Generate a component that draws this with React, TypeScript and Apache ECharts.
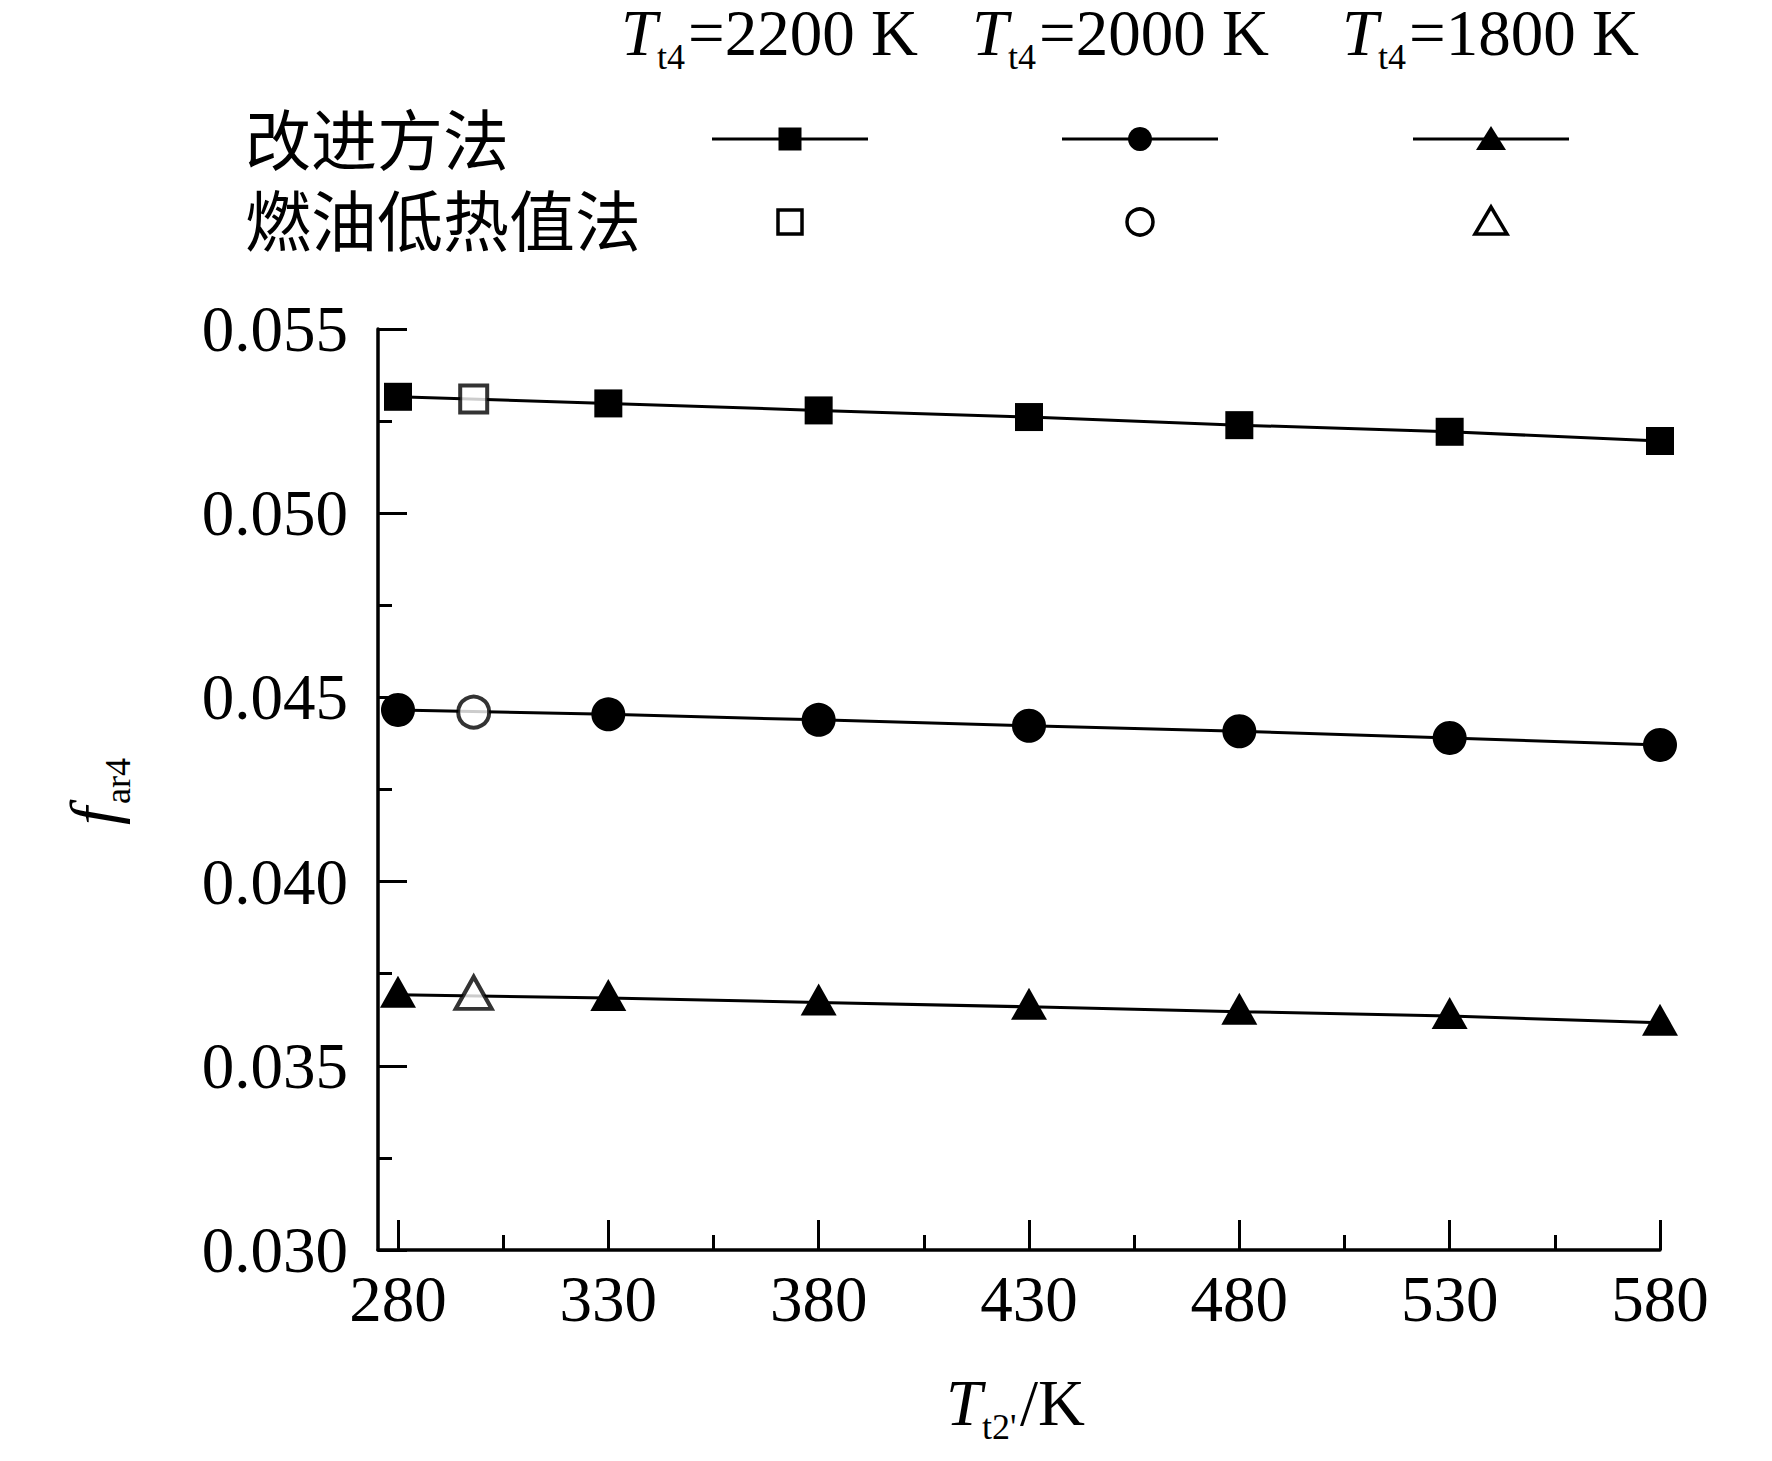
import React, { useEffect, useRef } from "react";
import * as echarts from "echarts";

// ---- data ----
const X_FILLED = [280, 330, 380, 430, 480, 530, 580];
const X_OPEN = [298];
const X_MAJOR_TICKS = [280, 330, 380, 430, 480, 530, 580];
const X_MINOR_TICKS = [305, 355, 405, 455, 505, 555];
const T4_LABELS = ["2200 K", "2000 K", "1800 K"];
const ROW_LABELS = ["改进方法", "燃油低热值法"];

const IMPROVED_2200 = [0.05316, 0.05298, 0.05279, 0.05261, 0.05239, 0.05221, 0.05196];
const IMPROVED_2000 = [0.04466, 0.04454, 0.04439, 0.04423, 0.04408, 0.0439, 0.04371];
const IMPROVED_1800 = [0.03693, 0.03684, 0.03672, 0.0366, 0.03647, 0.03635, 0.03617];
const LHV_2200 = [0.0531];
const LHV_2000 = [0.0446];
const LHV_1800 = [0.0369];

const SERIF = "'Liberation Serif', 'Times New Roman', 'DejaVu Serif', serif";
const CJK = "'Noto Sans CJK SC', 'Noto Sans CJK JP', sans-serif";

function txt(x: number, y: number, text: string, size: number, italic = false, lh?: number) {
  return {
    type: "text",
    x,
    y,
    style: {
      text,
      fontFamily: SERIF,
      fontSize: size,
      fontStyle: italic ? "italic" : "normal",
      lineHeight: lh ?? Math.round(size * 0.86),
      fill: "#000",
      align: "left",
      verticalAlign: "middle",
    },
  };
}

// symbol + subscript + rest, laid out left to right; mainMid = middle of the main text line
function subLabel(x0: number, mainMid: number, main: string, mainW: number, sub: string, subW: number, rest: string) {
  const subMid = mainMid + 24;
  const out: any[] = [txt(x0, mainMid, main, 65, true)];
  out.push(txt(x0 + mainW, subMid, sub, 36));
  if (rest) out.push(txt(x0 + mainW + subW, mainMid, rest, 65));
  return out;
}

export default function App() {
  const ref = useRef<HTMLDivElement>(null);

  useEffect(() => {
    document.body.style.margin = "0";
    const chart = echarts.init(ref.current!, null, { renderer: "svg" });

    const pairs = (xs: number[], ys: number[]) => xs.map((x, i) => [x, ys[i]]);
    const symbols = ["rect", "circle", "triangle"];
    const filledSizes: any[] = [28, 34, [36, 32]];
    const openSizes: any[] = [27, 31, [36, 32]];
    const improved = [IMPROVED_2200, IMPROVED_2000, IMPROVED_1800];
    const lhv = [LHV_2200, LHV_2000, LHV_1800];

    const series: any[] = [];
    for (let k = 0; k < 3; k++) {
      series.push({
        name: ROW_LABELS[0] + T4_LABELS[k],
        type: "line",
        data: pairs(X_FILLED, improved[k]),
        symbol: symbols[k],
        symbolSize: filledSizes[k],
        symbolOffset: k === 2 ? [0, -3] : [0, 0],
        showAllSymbol: true,
        lineStyle: { color: "#000", width: 3 },
        itemStyle: { color: "#000" },
        z: 2,
      });
      series.push({
        name: ROW_LABELS[1] + T4_LABELS[k],
        type: "scatter",
        data: pairs(X_OPEN, lhv[k]),
        symbol: symbols[k],
        symbolSize: openSizes[k],
        symbolOffset: k === 2 ? [0, -3] : [0, 0],
        itemStyle: { color: "#fff", borderColor: "#000", borderWidth: 4 },
        z: 4,
      });
    }

    // legend graphics
    const colX = [790, 1140, 1491];
    const headerLeft = [621, 972, 1342];
    const graphic: any[] = [];
    for (let k = 0; k < 3; k++) {
      graphic.push(...subLabel(headerLeft[k], 33, "T", 36, "t4", 31, "=" + T4_LABELS[k]));
      graphic.push({
        type: "line",
        shape: { x1: colX[k] - 78, y1: 139, x2: colX[k] + 78, y2: 139 },
        style: { stroke: "#000", lineWidth: 3 },
      });
    }
    // filled legend markers
    graphic.push({ type: "rect", shape: { x: colX[0] - 11.5, y: 139 - 11.5, width: 23, height: 23 }, style: { fill: "#000" } });
    graphic.push({ type: "circle", shape: { cx: colX[1], cy: 139, r: 12 }, style: { fill: "#000" } });
    graphic.push({
      type: "polygon",
      shape: { points: [[colX[2], 126], [colX[2] - 15, 150], [colX[2] + 15, 150]] },
      style: { fill: "#000" },
    });
    // open legend markers
    graphic.push({ type: "rect", shape: { x: colX[0] - 12, y: 222 - 12, width: 24, height: 24 }, style: { fill: "#fff", stroke: "#000", lineWidth: 3.5 } });
    graphic.push({ type: "circle", shape: { cx: colX[1], cy: 222, r: 13 }, style: { fill: "#fff", stroke: "#000", lineWidth: 3.5 } });
    graphic.push({
      type: "polygon",
      shape: { points: [[colX[2], 207], [colX[2] - 16, 234], [colX[2] + 16, 234]] },
      style: { fill: "#fff", stroke: "#000", lineWidth: 3.5 },
    });
    // row labels
    graphic.push({
      type: "text", x: 245, y: 136,
      style: { text: ROW_LABELS[0], fontFamily: CJK, fontSize: 66, lineHeight: 62, fill: "#000", align: "left", verticalAlign: "middle" },
    });
    graphic.push({
      type: "text", x: 245, y: 217,
      style: { text: ROW_LABELS[1], fontFamily: CJK, fontSize: 66, lineHeight: 62, fill: "#000", align: "left", verticalAlign: "middle" },
    });
    // x axis name
    graphic.push(...subLabel(946, 1403, "T", 36, "t2'", 38, "/K"));
    // y axis name (rotated group)
    graphic.push({
      type: "group",
      x: 94,
      y: 792,
      rotation: Math.PI / 2,
      children: [txt(-33, 0, "f", 65, true), txt(-12, 24, "ar4", 36)],
    });

    const axisLabelStyle = { fontFamily: SERIF, fontSize: 65, color: "#000" };

    chart.setOption({
      animation: false,
      backgroundColor: "#fff",
      grid: { left: 378, right: 112, top: 329, bottom: 211, containLabel: false },
      xAxis: [
        {
          type: "value",
          min: 275.25,
          max: 580,
          axisLine: { show: true, lineStyle: { color: "#000", width: 3.5 } },
          axisTick: { show: true, inside: true, length: 30, customValues: X_MAJOR_TICKS, lineStyle: { color: "#000", width: 3 } },
          axisLabel: { show: true, customValues: X_MAJOR_TICKS, margin: 16, ...axisLabelStyle },
          splitLine: { show: false },
        },
        {
          type: "value",
          min: 275.25,
          max: 580,
          position: "bottom",
          axisLine: { show: false },
          axisTick: { show: true, inside: true, length: 15, customValues: X_MINOR_TICKS, lineStyle: { color: "#000", width: 3 } },
          axisLabel: { show: false },
          splitLine: { show: false },
        },
      ],
      yAxis: {
        type: "value",
        min: 0.03,
        max: 0.055,
        interval: 0.005,
        axisLine: { show: true, lineStyle: { color: "#000", width: 3.5 } },
        axisTick: { show: true, inside: true, length: 29, lineStyle: { color: "#000", width: 3 } },
        minorTick: { show: true, splitNumber: 2, length: 14, lineStyle: { color: "#000", width: 3 } },
        axisLabel: { margin: 30, formatter: (v: number) => v.toFixed(3), ...axisLabelStyle },
        splitLine: { show: false },
        minorSplitLine: { show: false },
      },
      series,
      graphic,
    });

    return () => chart.dispose();
  }, []);

  return <div ref={ref} style={{ width: 1772, height: 1461 }} />;
}
